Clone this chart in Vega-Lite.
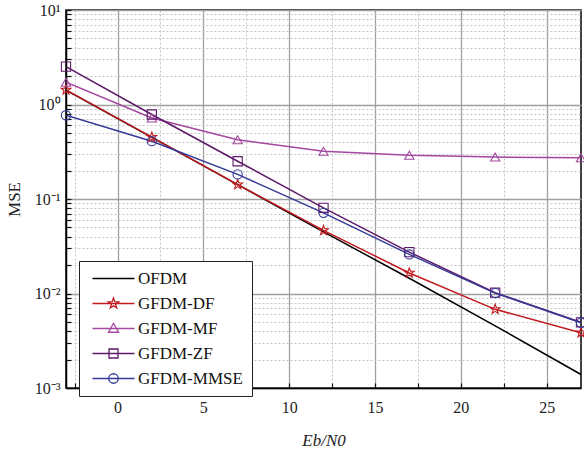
{
  "$schema": "https://vega.github.io/schema/vega-lite/v6.json",
  "width": 515,
  "height": 378,
  "autosize": {"type": "none"},
  "padding": {"left": 66, "top": 10, "right": 3, "bottom": 62},
  "background": "white",
  "config": {
    "view": {"stroke": "black", "strokeWidth": 1.5},
    "axis": {
      "labelFont": "Liberation Serif",
      "labelFontSize": 16,
      "labelColor": "#222",
      "titleFont": "Liberation Serif",
      "titleFontSize": 17,
      "titleFontWeight": "normal",
      "titleColor": "#222",
      "domainColor": "black",
      "domainWidth": 1.5,
      "tickColor": "#111",
      "tickWidth": 1.2,
      "gridOpacity": 1,
      "labelOverlap": false,
      "labelFlush": false
    },
    "legend": {
      "labelFont": "Liberation Serif",
      "labelFontSize": 17,
      "labelColor": "#111"
    }
  },
  "data": {
    "values": [
      {"x": -3, "mse": 1.42, "series": "OFDM"},
      {"x": 2, "mse": 0.449, "series": "OFDM"},
      {"x": 7, "mse": 0.142, "series": "OFDM"},
      {"x": 12, "mse": 0.0449, "series": "OFDM"},
      {"x": 17, "mse": 0.0145, "series": "OFDM"},
      {"x": 22, "mse": 0.00455, "series": "OFDM"},
      {"x": 27, "mse": 0.00139, "series": "OFDM"},
      {"x": -3, "mse": 1.43, "series": "GFDM-DF"},
      {"x": 2, "mse": 0.451, "series": "GFDM-DF"},
      {"x": 7, "mse": 0.142, "series": "GFDM-DF"},
      {"x": 12, "mse": 0.0465, "series": "GFDM-DF"},
      {"x": 17, "mse": 0.0165, "series": "GFDM-DF"},
      {"x": 22, "mse": 0.0068, "series": "GFDM-DF"},
      {"x": 27, "mse": 0.00385, "series": "GFDM-DF"},
      {"x": -3, "mse": 1.72, "series": "GFDM-MF"},
      {"x": 2, "mse": 0.72, "series": "GFDM-MF"},
      {"x": 7, "mse": 0.423, "series": "GFDM-MF"},
      {"x": 12, "mse": 0.32, "series": "GFDM-MF"},
      {"x": 17, "mse": 0.29, "series": "GFDM-MF"},
      {"x": 22, "mse": 0.278, "series": "GFDM-MF"},
      {"x": 27, "mse": 0.273, "series": "GFDM-MF"},
      {"x": -3, "mse": 2.52, "series": "GFDM-ZF"},
      {"x": 2, "mse": 0.784, "series": "GFDM-ZF"},
      {"x": 7, "mse": 0.251, "series": "GFDM-ZF"},
      {"x": 12, "mse": 0.0807, "series": "GFDM-ZF"},
      {"x": 17, "mse": 0.0274, "series": "GFDM-ZF"},
      {"x": 22, "mse": 0.0102, "series": "GFDM-ZF"},
      {"x": 27, "mse": 0.00495, "series": "GFDM-ZF"},
      {"x": -3, "mse": 0.77, "series": "GFDM-MMSE"},
      {"x": 2, "mse": 0.409, "series": "GFDM-MMSE"},
      {"x": 7, "mse": 0.182, "series": "GFDM-MMSE"},
      {"x": 12, "mse": 0.0714, "series": "GFDM-MMSE"},
      {"x": 17, "mse": 0.0259, "series": "GFDM-MMSE"},
      {"x": 22, "mse": 0.0101, "series": "GFDM-MMSE"},
      {"x": 27, "mse": 0.0049, "series": "GFDM-MMSE"}
    ]
  },
  "encoding": {
    "x": {
      "field": "x",
      "type": "quantitative",
      "scale": {"domain": [-3, 27], "nice": false, "zero": false},
      "axis": {
        "values": [-2.5, 0, 2.5, 5, 7.5, 10, 12.5, 15, 17.5, 20, 22.5, 25],
        "labelExpr": "datum.value % 5 == 0 ? datum.label : ''",
        "gridColor": {"condition": {"test": "datum.value % 5 == 0", "value": "#a0a0a0"}, "value": "#c4c4c4"},
        "gridDash": {"condition": {"test": "datum.value % 5 == 0", "value": []}, "value": [2, 2]},
        "gridWidth": {"condition": {"test": "datum.value % 5 == 0", "value": 1.3}, "value": 1},
        "tickSize": -5,
        "labelPadding": 16,
        "title": "Eb/N0",
        "titleFontStyle": "italic",
        "titlePadding": 17
      }
    },
    "y": {
      "field": "mse",
      "type": "quantitative",
      "scale": {"type": "log", "domain": [0.001, 10], "nice": false},
      "axis": {
        "values": [0.001, 0.002, 0.003, 0.004, 0.005, 0.006, 0.007, 0.008, 0.009, 0.01, 0.02, 0.03, 0.04, 0.05, 0.06, 0.07, 0.08, 0.09, 0.1, 0.2, 0.3, 0.4, 0.5, 0.6, 0.7, 0.8, 0.9, 1, 2, 3, 4, 5, 6, 7, 8, 9, 10],
        "labelExpr": "abs(log(datum.value)/LN10 - round(log(datum.value)/LN10)) < 0.001 ? '10' + ['⁻³','⁻²','⁻¹','⁰','¹'][round(log(datum.value)/LN10) + 3] : ''",
        "gridColor": {"condition": {"test": "abs(log(datum.value)/LN10 - round(log(datum.value)/LN10)) < 0.001", "value": "#a0a0a0"}, "value": "#c4c4c4"},
        "gridDash": {"condition": {"test": "abs(log(datum.value)/LN10 - round(log(datum.value)/LN10)) < 0.001", "value": []}, "value": [2, 2]},
        "gridWidth": {"condition": {"test": "abs(log(datum.value)/LN10 - round(log(datum.value)/LN10)) < 0.001", "value": 1.3}, "value": 1},
        "tickSize": -5,
        "labelPadding": 11,
        "title": "MSE",
        "titlePadding": 11
      }
    }
  },
  "layer": [
    {
      "mark": {"type": "line", "strokeWidth": 1.5, "clip": true},
      "encoding": {
        "color": {
          "field": "series",
          "type": "nominal",
          "scale": {"domain": ["OFDM", "GFDM-DF", "GFDM-MF", "GFDM-ZF", "GFDM-MMSE"], "range": ["#000000", "#c01a1e", "#a4479e", "#5e1a6a", "#353a97"]},
          "legend": null
        }
      }
    },
    {
      "transform": [{"filter": "datum.series != 'OFDM'"}],
      "mark": {"type": "point", "filled": false, "size": 85, "strokeWidth": 1.1, "opacity": 1, "clip": false},
      "encoding": {
        "color": {
          "field": "series",
          "type": "nominal",
          "scale": {"domain": ["OFDM", "GFDM-DF", "GFDM-MF", "GFDM-ZF", "GFDM-MMSE"], "range": ["#000000", "#c01a1e", "#a4479e", "#5e1a6a", "#353a97"]},
          "legend": null
        },
        "shape": {
          "field": "series",
          "type": "nominal",
          "scale": {
            "domain": ["OFDM", "GFDM-DF", "GFDM-MF", "GFDM-ZF", "GFDM-MMSE"],
            "range": ["circle", "M0,-1.1L0.259,-0.357L1.046,-0.340L0.418,0.136L0.647,0.890L0,0.44L-0.647,0.890L-0.418,0.136L-1.046,-0.340L-0.259,-0.357Z", "triangle-up", "square", "circle"]
          },
          "legend": null
        }
      }
    },
    {
      "mark": {"type": "point", "filled": false, "opacity": 0},
      "encoding": {
        "color": {
          "field": "series",
          "type": "nominal",
          "scale": {"domain": ["OFDM", "GFDM-DF", "GFDM-MF", "GFDM-ZF", "GFDM-MMSE"], "range": ["#000000", "#c01a1e", "#a4479e", "#5e1a6a", "#353a97"]},
          "legend": {
            "title": null, "orient": "none", "legendX": 13, "legendY": 251,
            "symbolOpacity": 1, "symbolSize": 100, "symbolStrokeWidth": 1.3,
            "symbolOffset": 17, "labelOffset": 16, "rowPadding": 7, "padding": 9,
            "strokeColor": "#222", "fillColor": "white"
          }
        },
        "shape": {
          "field": "series",
          "type": "nominal",
          "scale": {
            "domain": ["OFDM", "GFDM-DF", "GFDM-MF", "GFDM-ZF", "GFDM-MMSE"],
            "range": [
              "M-4.2,0H4.2",
              "M-4.2,0H4.2M0,-1.1L0.259,-0.357L1.046,-0.340L0.418,0.136L0.647,0.890L0,0.44L-0.647,0.890L-0.418,0.136L-1.046,-0.340L-0.259,-0.357Z",
              "M-4.2,0H4.2M0,-1.05L1,0.75H-1Z",
              "M-4.2,0H4.2M-0.9,-0.9H0.9V0.9H-0.9Z",
              "M-4.2,0H4.2M-0.95,0A0.95,0.95 0 1,1 0.95,0A0.95,0.95 0 1,1 -0.95,0Z"
            ]
          },
          "legend": {
            "title": null, "orient": "none", "legendX": 13, "legendY": 251,
            "symbolOpacity": 1, "symbolSize": 100, "symbolStrokeWidth": 1.3,
            "symbolOffset": 17, "labelOffset": 16, "rowPadding": 7, "padding": 9,
            "strokeColor": "#222", "fillColor": "white"
          }
        }
      }
    }
  ],
  "resolve": {"scale": {"color": "independent", "shape": "independent"}}
}
